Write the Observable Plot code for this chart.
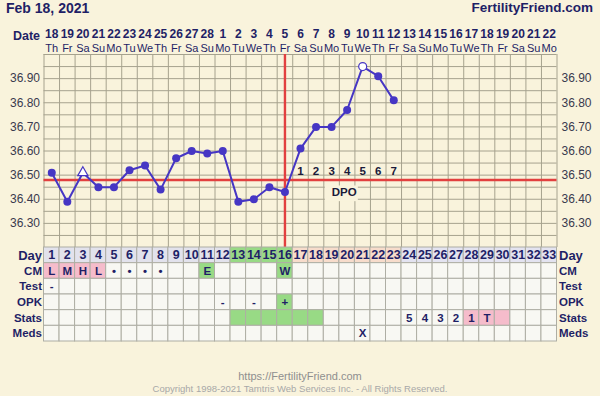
<!DOCTYPE html>
<html>
<head>
<meta charset="utf-8">
<script src="https://cdn.jsdelivr.net/npm/d3@7"></script>
<script src="https://cdn.jsdelivr.net/npm/@observablehq/plot@0.6"></script>
<style>
  html, body { margin: 0; padding: 0; background: #f9f3dc; }
  #wrap { position: relative; width: 600px; height: 396px; overflow: hidden; background: #f9f3dc; font-family: "Liberation Sans", Arial, sans-serif; }
  #wrap svg { position: absolute; left: 0; }
  .hdr { position: absolute; font-weight: bold; color: #1f1f66; line-height: 16px; }
  .foot { position: absolute; left: 0; width: 600px; text-align: center; color: #9a9a9a; }
</style>
</head>
<body>
<div id="wrap">
  <div class="hdr" style="left:6px; top:0px; font-size:14px;">Feb 18, 2021</div>
  <div class="hdr" style="right:7px; top:0px; font-size:13.5px;">FertilityFriend.com</div>
  <div class="foot" style="top:370px; font-size:11px; color:#8f8f8f;">https://FertilityFriend.com</div>
  <div class="foot" style="top:383px; font-size:9.5px; color:#a8a8a8;">Copyright 1998-2021 Tamtris Web Services Inc. - All Rights Reserved.</div>
</div>
<script>
// ---------- data ----------
const dates = ["18","19","20","21","22","23","24","25","26","27","28","1","2","3","4","5","6","7","8","9","10","11","12","13","14","15","16","17","18","19","20","21","22"];
const weekdays = ["Th","Fr","Sa","Su","Mo","Tu","We","Th","Fr","Sa","Su","Mo","Tu","We","Th","Fr","Sa","Su","Mo","Tu","We","Th","Fr","Sa","Su","Mo","Tu","We","Th","Fr","Sa","Su","Mo"];
const cycleDays = d3.range(1, 34);
const temps = [36.51, 36.39, 36.51, 36.45, 36.45, 36.52, 36.54, 36.44, 36.57, 36.60, 36.59, 36.60, 36.39, 36.40, 36.45, 36.43, 36.61, 36.70, 36.70, 36.77, 36.95, 36.91, 36.81];
const openTriangleDays = [3];
const openCircleDays = [21];
const coverline = 36.48;
const ovulationDay = 16;
const dpoLabels = ["1","2","3","4","5","6","7"];
const dpoStartDay = 17;
const dpoTitleDay = 20;
const yTicks = [36.30, 36.40, 36.50, 36.60, 36.70, 36.80, 36.90];
const yDomain = [36.20, 37.00];

const rows = ["Day","CM","Test","OPK","Stats","Meds"];
const cmText = [[1,"L"],[2,"M"],[3,"H"],[4,"L"],[5,"•"],[6,"•"],[7,"•"],[8,"•"],[11,"E"],[16,"W"]];
const testText = [[1,"-"]];
const opkText = [[12,"-"],[14,"-"],[16,"+"]];
const statsText = [[24,"5"],[25,"4"],[26,"3"],[27,"2"],[28,"1"],[29,"T"]];
const medsText = [[21,"X"]];
const fertileDays = [13,14,15,16];
const lutealDays = [17,18,19,20,21,22,23];
const futureDays = d3.range(24, 34);
const cmPinkDays = [1,2,3,4];
const cmGreenDays = [11,16];
const opkGreenDays = [16];
const statsGreenDays = [13,14,15,16,17,18];
const statsPinkDays = [28,29,30];

// ---------- style ----------
const C = {
  grid: "#a6a28e", tableGrid: "#aeaea4", blue: "#4636c4", red: "#e2403f",
  navy: "#1f1f66", bg: "#f9f3dc", cell: "#f8f8f3", green: "#98da85", pink: "#f5bccb",
  lav: "#e2e2ec", lavFuture: "#e3e3f0", peach: "#f7dccb", label: "#3a3a4e"
};
const M = {left: 43.5, right: 43.5};

// ---------- temperature chart ----------
const tempData = temps.map((t, i) => ({day: i + 1, temp: t}));
const filled = tempData.filter(d => !openTriangleDays.includes(d.day) && !openCircleDays.includes(d.day));
const tri = tempData.filter(d => openTriangleDays.includes(d.day));
const circ = tempData.filter(d => openCircleDays.includes(d.day));
const dpoData = dpoLabels.map((t, i) => ({day: dpoStartDay + i, text: t}));
const hGrid = d3.range(0, 17).map(i => yDomain[0] + i * 0.05);
const vGrid = d3.range(0, 34).map(i => i + 0.5);

const chart = Plot.plot({
  width: 600, height: 247,
  marginTop: 54, marginBottom: 0, marginLeft: M.left, marginRight: M.right,
  x: {domain: [0.5, 33.5], axis: null},
  y: {domain: yDomain, axis: null},
  style: {background: "transparent", overflow: "visible", fontFamily: "Liberation Sans, Arial, sans-serif"},
  marks: [
    Plot.ruleY(hGrid, {y: d => d, stroke: C.grid, strokeWidth: 1}),
    Plot.ruleX(vGrid, {x: d => d, stroke: C.grid, strokeWidth: 1}),
    Plot.rect([{day: dpoTitleDay}], {x1: d => d.day - 1.4, x2: d => d.day + 0.72, y1: coverline - 0.09, y2: coverline - 0.025, fill: C.bg}),
    Plot.ruleY([coverline], {y: d => d, stroke: C.red, strokeWidth: 2.6}),
    Plot.ruleX([ovulationDay], {x: d => d, stroke: C.red, strokeWidth: 2.4}),
    Plot.line(tempData, {x: "day", y: "temp", stroke: C.blue, strokeWidth: 2}),
    Plot.dot(filled, {x: "day", y: "temp", r: 4, fill: C.blue}),
    Plot.dot(circ, {x: "day", y: "temp", r: 4, fill: "white", stroke: C.blue, strokeWidth: 1.2}),
    Plot.dot(tri, {x: "day", y: "temp", r: 3.8, symbol: "triangle", fill: "white", stroke: C.blue, strokeWidth: 1.2}),
    Plot.text(dpoData, {x: "day", y: () => coverline, dy: -9, text: "text", fontWeight: "bold", fontSize: 11.5, fill: "#1a1a3a"}),
    Plot.text([{day: dpoTitleDay}], {x: "day", y: () => coverline, dx: -3, dy: 12.5, text: () => "DPO", fontWeight: "bold", fontSize: 11.5, fill: "#1a1a3a"}),
    // y labels both sides
    Plot.text(yTicks, {y: d => d, frameAnchor: "left", dx: -4, textAnchor: "end", text: d => d.toFixed(2), fontSize: 12, fill: C.label}),
    Plot.text(yTicks, {y: d => d, frameAnchor: "right", dx: 4.5, textAnchor: "start", text: d => d.toFixed(2), fontSize: 12, fill: C.label}),
    // date header
    Plot.text(cycleDays, {x: d => d, frameAnchor: "top", dy: -25.5, text: d => dates[d - 1], fontWeight: "bold", fontSize: 12, fill: C.navy}),
    Plot.text(cycleDays, {x: d => d, frameAnchor: "top", dy: -10, text: d => weekdays[d - 1], fontSize: 11, fill: C.navy}),
    Plot.text(["Date"], {frameAnchor: "top-left", dx: -4, dy: -23, textAnchor: "end", text: d => d, fontWeight: "bold", fontSize: 12.5, fill: C.navy})
  ]
});
chart.style.top = "0px";
document.getElementById("wrap").appendChild(chart);

// ---------- table ----------
function fillFor(row, day) {
  if (row === "Day") {
    if (fertileDays.includes(day)) return C.green;
    if (lutealDays.includes(day)) return C.peach;
    if (futureDays.includes(day)) return C.lavFuture;
    return C.lav;
  }
  if (row === "CM") { if (cmPinkDays.includes(day)) return C.pink; if (cmGreenDays.includes(day)) return C.green; }
  if (row === "OPK" && opkGreenDays.includes(day)) return C.green;
  if (row === "Stats") { if (statsGreenDays.includes(day)) return C.green; if (statsPinkDays.includes(day)) return C.pink; }
  return C.cell;
}
const cells = rows.flatMap((row, ri) => cycleDays.map(day => ({row, ri, day, fill: fillFor(row, day)})));
const texts = [
  ...cycleDays.map(d => ({ri: 0, day: d, text: String(d)})),
  ...cmText.map(([d, t]) => ({ri: 1, day: d, text: t})),
  ...testText.map(([d, t]) => ({ri: 2, day: d, text: t})),
  ...opkText.map(([d, t]) => ({ri: 3, day: d, text: t})),
  ...statsText.map(([d, t]) => ({ri: 4, day: d, text: t})),
  ...medsText.map(([d, t]) => ({ri: 5, day: d, text: t}))
];
const rowLabels = rows.map((r, i) => ({ri: i, text: r}));

const table = Plot.plot({
  width: 600, height: 94,
  marginTop: 0, marginBottom: 0, marginLeft: M.left, marginRight: M.right,
  x: {domain: [0.5, 33.5], axis: null},
  y: {domain: [0, rows.length], range: [0, 94], axis: null},
  style: {background: "transparent", overflow: "visible", fontFamily: "Liberation Sans, Arial, sans-serif"},
  marks: [
    Plot.rect(cells, {x1: d => d.day - 0.5, x2: d => d.day + 0.5, y1: d => d.ri, y2: d => d.ri + 1, fill: "fill", stroke: C.tableGrid, strokeWidth: 1}),
    Plot.text(texts, {x: "day", y: d => d.ri + 0.5, text: "text", fontWeight: "bold", fontSize: d => d.ri === 0 ? 12.5 : 11.5, fill: C.navy}),
    Plot.text(rowLabels, {y: d => d.ri + 0.5, frameAnchor: "left", dx: -2, textAnchor: "end", text: "text", fontWeight: "bold", fontSize: d => d.ri === 0 ? 13 : 11.5, letterSpacing: d => d.ri === 0 ? 0 : -0.6, fill: C.navy}),
    Plot.text(rowLabels, {y: d => d.ri + 0.5, frameAnchor: "right", dx: 2, textAnchor: "start", text: "text", fontWeight: "bold", fontSize: d => d.ri === 0 ? 13 : 11.5, letterSpacing: d => d.ri === 0 ? 0 : -0.6, fill: C.navy})
  ]
});
table.style.top = "247px";
document.getElementById("wrap").appendChild(table);
</script>
</body>
</html>
